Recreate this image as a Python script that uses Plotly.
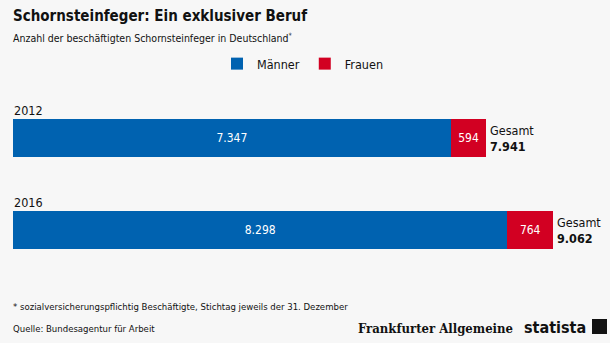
import plotly.graph_objects as go

years = ["2012", "2016"]
maenner = [7347, 8298]
frauen = [594, 764]
gesamt = [7941, 9062]

BLUE = "#0062b0"
RED = "#d20022"
BG = "#f7f7f7"
FONT = "DejaVu Sans Condensed, Liberation Sans Narrow, sans-serif"

fig = go.Figure()
fig.add_trace(go.Bar(
    y=years, x=maenner, name="Männer", orientation="h",
    marker=dict(color=BLUE, line=dict(width=0)),
    texttemplate="%{x:,d}", textposition="inside", insidetextanchor="middle",
    textfont=dict(color="white", size=12, family=FONT),
    width=0.41,
))
fig.add_trace(go.Bar(
    y=years, x=frauen, name="Frauen", orientation="h",
    marker=dict(color=RED, line=dict(width=0)),
    texttemplate="%{x:,d}", textposition="inside", insidetextanchor="middle",
    textfont=dict(color="white", size=12, family=FONT),
    width=0.41,
))

annotations = []
for i, (yr, tot) in enumerate(zip(years, gesamt)):
    annotations.append(dict(
        x=0, y=i, xref="x", yref="y", text=yr, showarrow=False,
        xanchor="left", yanchor="middle", yshift=28, xshift=-1,
        font=dict(size=12.5, color="#111", family=FONT),
    ))
    annotations.append(dict(
        x=tot, y=i, xref="x", yref="y",
        text="Gesamt<br><b>" + f"{tot:,d}".replace(",", ".") + "</b>",
        showarrow=False, xanchor="left", yanchor="middle", xshift=2, align="left",
        font=dict(size=12.5, color="#111", family=FONT),
    ))

W, H = 610, 343
L, R, T, B = 13, 57, 92, 67
pw, ph = W - L - R, H - T - B

def px(x):
    return (x - L) / pw

def py(y):
    return 1 - (y - T) / ph

annotations += [
    dict(x=px(11), y=py(16), xref="paper", yref="paper", text="<b>Schornsteinfeger: Ein exklusiver Beruf</b>",
         showarrow=False, xanchor="left", yanchor="middle",
         font=dict(size=15, color="#111", family=FONT)),
    dict(x=px(11), y=py(37), xref="paper", yref="paper",
         text="Anzahl der beschäftigten Schornsteinfeger in Deutschland<sup>*</sup>",
         showarrow=False, xanchor="left", yanchor="middle",
         font=dict(size=10.5, color="#111", family=FONT)),
    dict(x=px(11), y=py(306), xref="paper", yref="paper",
         text="* sozialversicherungspflichtig Beschäftigte, Stichtag jeweils der 31. Dezember",
         showarrow=False, xanchor="left", yanchor="middle",
         font=dict(size=9.5, color="#111", family=FONT)),
    dict(x=px(11), y=py(328), xref="paper", yref="paper",
         text="Quelle: Bundesagentur für Arbeit",
         showarrow=False, xanchor="left", yanchor="middle",
         font=dict(size=9.5, color="#111", family=FONT)),
    dict(x=px(515), y=py(328), xref="paper", yref="paper",
         text="<b>Frankfurter Allgemeine</b>",
         showarrow=False, xanchor="right", yanchor="middle",
         font=dict(size=13, color="#111", family="DejaVu Serif Condensed, DejaVu Serif, serif")),
    dict(x=px(588), y=py(327), xref="paper", yref="paper",
         text="<b>statista</b>",
         showarrow=False, xanchor="right", yanchor="middle",
         font=dict(size=16, color="#111", family="DejaVu Sans Condensed, DejaVu Sans, sans-serif")),
]

fig.update_layout(
    width=W, height=H,
    margin=dict(l=L, r=R, t=T, b=B, autoexpand=False),
    barmode="stack",
    paper_bgcolor=BG, plot_bgcolor=BG,
    separators=",.",
    showlegend=True,
    legend=dict(orientation="h", x=px(303), xanchor="center",
                y=py(64), yanchor="middle",
                font=dict(size=12.5, color="#111", family=FONT),
                bgcolor="rgba(0,0,0,0)", traceorder="normal"),
    xaxis=dict(range=[0, 9062], visible=False, fixedrange=True),
    yaxis=dict(type="category", categoryorder="array", categoryarray=years,
               range=[1.5, -0.5], autorange=False,
               visible=False, fixedrange=True),
    annotations=annotations,
    shapes=[dict(type="rect", xref="paper", yref="paper",
                 x0=px(592), x1=px(607),
                 y0=py(334), y1=py(319),
                 fillcolor="#111", line=dict(width=0))],
)

fig.write_html("out.html")
